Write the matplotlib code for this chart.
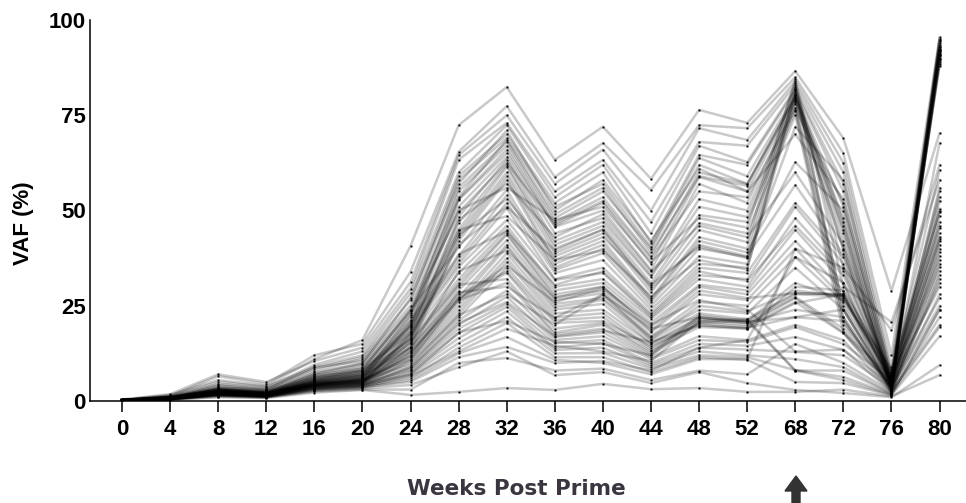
import matplotlib

matplotlib.use("Agg")
import matplotlib.pyplot as plt
from matplotlib.patches import FancyArrow

plt.rcParams["font.family"] = ["Liberation Sans", "DejaVu Sans"]

weeks = ["0", "4", "8", "12", "16", "20", "24", "28", "32", "36",
         "40", "44", "48", "52", "68", "72", "76", "80"]
y_ticks = [0, 25, 50, 75, 100]

# VAF (%) per variant, one row per variant, one column per week above
peak_high = [
    [0.3, 1.6, 5.5, 4.0, 11.0, 16.0, 40.7, 72.4, 82.4, 63.3, 72.0, 58.3, 76.4, 73.0, 86.6, 69.0, 28.9, 70.3],
    [0.2, 1.3, 6.5, 4.5, 12.0, 15.0, 33.9, 65.4, 77.4, 58.8, 67.7, 55.4, 72.4, 71.6, 85.0, 65.0, 12.0, 95.5],
    [0.4, 1.8, 7.0, 5.0, 10.5, 14.0, 31.2, 64.5, 75.0, 57.0, 66.0, 50.0, 71.6, 68.5, 84.0, 62.5, 9.0, 94.0],
    [0.2, 1.1, 4.5, 3.5, 9.5, 13.0, 29.5, 63.3, 73.0, 55.0, 63.3, 47.0, 68.0, 67.0, 83.0, 60.0, 7.5, 93.0],
    [0.3, 1.0, 4.0, 3.0, 9.0, 12.0, 28.3, 60.0, 72.4, 53.5, 62.0, 44.0, 67.0, 62.7, 82.0, 57.0, 6.5, 92.0],
    [0.1, 0.9, 3.5, 3.0, 8.5, 11.5, 26.5, 59.0, 70.0, 52.0, 60.0, 41.5, 64.6, 62.0, 81.5, 55.0, 5.0, 91.5],
    [0.2, 1.2, 4.2, 3.2, 8.0, 11.0, 25.0, 58.0, 69.0, 51.0, 57.0, 40.4, 63.8, 59.0, 80.5, 51.0, 4.0, 90.5],
    [0.3, 0.8, 3.0, 2.5, 7.5, 10.0, 23.0, 56.0, 68.0, 48.0, 55.0, 40.0, 62.0, 57.0, 80.0, 48.0, 3.5, 94.5],
    [0.2, 0.7, 3.2, 2.2, 7.0, 9.5, 22.0, 55.0, 67.0, 47.0, 53.5, 38.0, 60.0, 57.0, 79.5, 45.0, 3.0, 89.5],
    [0.1, 0.9, 2.8, 2.0, 6.5, 9.0, 21.0, 53.0, 66.0, 46.0, 52.0, 36.0, 58.8, 55.0, 79.0, 42.0, 5.5, 88.5],
    [0.2, 0.6, 2.5, 1.8, 6.0, 8.5, 20.0, 52.8, 65.0, 45.7, 50.0, 34.4, 57.0, 52.0, 78.5, 39.6, 4.5, 93.5],
    [0.3, 1.0, 3.0, 2.4, 6.5, 8.0, 19.5, 51.0, 64.0, 44.0, 48.0, 33.0, 53.0, 50.0, 78.0, 25.0, 3.5, 91.0],
    [0.1, 0.5, 2.6, 1.9, 5.5, 8.0, 18.5, 48.3, 63.3, 42.0, 47.0, 32.5, 51.0, 48.3, 77.0, 22.0, 2.5, 90.0],
    [0.2, 0.8, 2.2, 1.6, 5.5, 7.5, 17.5, 46.7, 62.0, 41.0, 46.0, 31.0, 48.8, 47.0, 76.0, 20.0, 4.0, 92.5],
    [0.3, 1.1, 3.4, 2.6, 6.0, 7.0, 16.5, 45.0, 61.4, 40.0, 45.0, 30.0, 46.7, 44.0, 75.0, 18.0, 6.0, 95.0],
    [0.2, 0.7, 2.4, 1.7, 5.0, 7.2, 16.0, 44.0, 60.0, 38.8, 44.0, 28.5, 44.9, 41.7, 84.5, 30.0, 20.7, 58.0],
    [0.1, 0.6, 2.0, 1.5, 4.8, 6.8, 15.0, 43.0, 59.0, 37.0, 42.0, 27.0, 43.0, 40.0, 82.5, 35.0, 18.6, 62.0],
    [0.2, 0.9, 2.6, 2.0, 5.2, 6.5, 14.2, 42.0, 58.0, 36.0, 41.0, 26.5, 42.0, 39.0, 62.7, 50.0, 4.8, 67.7],
]

peak_mid = [
    [0.2, 0.8, 3.0, 2.2, 6.0, 8.0, 24.0, 40.4, 55.4, 35.0, 40.0, 26.0, 40.0, 37.8, 81.0, 47.0, 4.2, 91.8],
    [0.3, 1.0, 2.8, 2.0, 5.5, 7.0, 21.2, 38.0, 54.0, 34.4, 38.8, 25.0, 38.0, 36.0, 80.2, 44.0, 3.2, 89.0],
    [0.1, 0.6, 2.2, 1.6, 4.5, 6.0, 20.0, 37.0, 52.0, 33.6, 37.0, 24.0, 36.0, 35.0, 79.0, 40.0, 2.8, 93.0],
    [0.2, 0.7, 2.5, 1.8, 5.0, 6.5, 19.0, 36.0, 50.6, 32.0, 35.0, 23.0, 35.0, 33.6, 52.0, 37.8, 5.2, 55.0],
    [0.3, 0.9, 3.1, 2.3, 4.8, 5.5, 18.0, 35.2, 47.5, 31.8, 33.6, 22.0, 33.0, 32.0, 51.0, 36.0, 6.8, 50.0],
    [0.2, 0.5, 2.0, 1.4, 4.2, 5.0, 17.0, 33.6, 46.0, 30.0, 32.0, 21.5, 32.0, 30.0, 48.0, 34.0, 4.5, 47.0],
    [0.1, 0.7, 2.3, 1.7, 4.4, 5.8, 16.0, 32.0, 45.0, 29.0, 31.0, 20.5, 30.5, 29.0, 45.0, 31.0, 3.6, 45.5],
    [0.2, 0.8, 2.7, 2.1, 4.6, 5.2, 15.5, 31.0, 44.0, 28.0, 30.0, 19.5, 30.0, 28.0, 42.0, 29.0, 7.5, 44.0],
    [0.3, 0.6, 1.9, 1.5, 4.0, 4.8, 14.2, 30.0, 43.6, 27.3, 29.0, 18.0, 28.0, 26.5, 40.0, 27.0, 5.8, 42.0],
    [0.2, 0.9, 2.4, 1.9, 4.3, 5.3, 13.4, 29.0, 42.2, 26.5, 28.3, 17.0, 26.0, 25.0, 37.8, 26.0, 4.8, 40.0],
    [0.1, 0.5, 1.8, 1.3, 3.8, 4.6, 12.5, 27.3, 41.0, 25.5, 27.0, 16.8, 24.0, 23.0, 35.0, 24.0, 3.0, 38.0],
    [0.2, 0.7, 2.1, 1.6, 4.0, 5.0, 12.0, 26.0, 40.4, 24.7, 26.5, 16.0, 23.0, 21.5, 28.3, 28.0, 2.2, 36.0],
    [0.3, 0.8, 2.6, 2.0, 4.5, 5.6, 11.5, 25.0, 38.8, 24.0, 25.5, 15.2, 22.0, 21.0, 28.0, 27.5, 6.0, 35.2],
    [0.2, 0.6, 2.0, 1.5, 3.9, 4.7, 11.0, 24.0, 37.5, 23.0, 24.0, 15.0, 21.5, 20.5, 27.3, 19.0, 3.3, 34.0],
    [0.1, 0.5, 1.7, 1.2, 3.5, 4.3, 10.5, 23.0, 36.5, 22.0, 23.0, 14.0, 21.0, 20.0, 27.0, 18.0, 2.6, 33.0],
    [0.2, 0.7, 2.2, 1.7, 4.1, 4.9, 10.0, 22.0, 35.0, 21.2, 22.0, 13.5, 20.5, 19.5, 26.0, 17.8, 4.0, 31.0],
    [0.3, 0.9, 2.9, 2.2, 4.7, 6.2, 14.0, 28.0, 34.0, 20.5, 21.0, 14.5, 20.0, 19.0, 25.7, 28.0, 5.0, 48.5],
    [0.2, 0.6, 2.1, 1.6, 4.2, 5.4, 13.0, 27.0, 33.6, 19.0, 20.5, 13.0, 19.4, 19.0, 30.0, 29.0, 7.0, 46.0],
    [0.1, 0.8, 2.5, 1.8, 4.4, 5.9, 15.2, 30.5, 32.0, 18.0, 20.0, 12.5, 22.5, 21.0, 31.0, 26.5, 8.5, 49.5],
    [0.2, 0.7, 2.3, 1.7, 4.3, 5.1, 12.8, 26.5, 31.0, 17.5, 19.0, 12.0, 21.8, 20.8, 22.0, 24.0, 3.9, 43.0],
]

peak_low = [
    [0.2, 0.5, 1.6, 1.2, 3.4, 4.0, 9.0, 21.2, 29.0, 16.8, 18.0, 11.5, 17.0, 16.0, 20.0, 16.0, 2.4, 32.0],
    [0.1, 0.6, 1.9, 1.4, 3.6, 4.4, 8.5, 20.0, 27.3, 16.0, 17.0, 11.0, 16.0, 15.5, 19.4, 15.0, 5.5, 30.0],
    [0.3, 0.8, 2.4, 1.8, 3.8, 4.5, 8.1, 19.0, 25.5, 15.2, 16.0, 10.0, 15.0, 14.5, 16.8, 13.4, 4.2, 27.0],
    [0.2, 0.7, 2.0, 1.5, 3.5, 4.2, 7.8, 17.8, 24.7, 14.0, 15.2, 9.5, 14.0, 13.5, 12.9, 12.0, 3.5, 25.0],
    [0.1, 0.4, 1.5, 1.1, 3.0, 3.8, 7.3, 16.5, 23.5, 13.4, 14.0, 9.0, 13.0, 12.0, 11.0, 8.9, 2.0, 22.0],
    [0.2, 0.6, 1.7, 1.3, 3.2, 4.1, 6.8, 15.2, 22.0, 12.5, 12.6, 8.5, 12.0, 11.5, 8.1, 6.3, 1.8, 19.4],
    [0.3, 0.5, 1.8, 1.4, 3.3, 3.9, 6.0, 14.0, 20.5, 11.5, 11.5, 7.6, 11.5, 10.8, 5.0, 4.7, 1.5, 17.0],
    [0.1, 0.4, 1.4, 1.0, 2.8, 3.5, 5.5, 12.5, 16.8, 10.8, 10.0, 7.0, 11.0, 11.0, 40.0, 35.0, 4.5, 42.5],
    [0.2, 0.6, 1.6, 1.2, 3.0, 3.7, 5.0, 11.5, 14.2, 10.0, 10.5, 8.0, 14.0, 16.0, 37.8, 31.0, 3.2, 39.0],
    [0.1, 0.5, 1.3, 1.0, 2.7, 3.3, 4.2, 8.9, 13.0, 6.8, 7.6, 4.7, 7.6, 4.7, 2.9, 2.1, 1.0, 9.4],
    [0.1, 0.3, 1.0, 0.8, 2.2, 2.9, 1.6, 2.4, 3.4, 2.9, 4.5, 3.1, 3.4, 2.4, 2.4, 3.0, 1.2, 6.8],
    [0.1, 0.4, 1.1, 0.9, 2.5, 3.0, 3.0, 10.0, 11.3, 8.0, 8.5, 5.5, 8.0, 7.0, 15.0, 10.0, 2.5, 20.0],
    [0.2, 0.5, 1.5, 1.1, 3.1, 3.6, 6.5, 13.0, 19.0, 14.5, 13.0, 10.5, 21.0, 21.5, 8.0, 5.5, 1.6, 24.0],
]

extra_tracks = [
    [0.2, 0.9, 3.6, 2.8, 7.2, 9.8, 27.0, 57.0, 71.0, 50.0, 58.0, 42.0, 61.0, 55.0, 70.0, 53.0, 4.6, 92.2],
    [0.3, 1.4, 5.0, 3.8, 8.8, 10.5, 24.0, 53.5, 68.5, 49.0, 56.0, 39.0, 59.0, 56.5, 79.8, 46.0, 3.1, 90.8],
    [0.2, 0.8, 2.9, 2.1, 6.2, 7.8, 18.0, 47.5, 57.0, 43.0, 49.0, 34.0, 46.0, 43.0, 60.0, 41.0, 5.2, 88.0],
    [0.1, 0.6, 2.3, 1.7, 5.1, 6.3, 16.5, 41.0, 51.0, 39.5, 45.0, 29.5, 41.0, 38.0, 56.7, 38.5, 3.4, 94.8],
    [0.2, 0.7, 2.5, 1.9, 4.9, 6.0, 20.5, 44.9, 48.5, 37.0, 39.5, 27.5, 37.0, 34.5, 81.8, 24.0, 2.9, 91.2],
    [0.3, 0.9, 2.8, 2.2, 5.3, 6.6, 22.5, 50.0, 56.0, 47.5, 51.0, 36.5, 48.0, 45.5, 83.5, 21.0, 3.7, 89.8],
    [0.2, 0.6, 2.1, 1.6, 4.4, 5.7, 13.8, 34.0, 39.5, 27.0, 30.0, 18.5, 29.0, 27.0, 28.3, 28.0, 4.4, 52.5],
    [0.1, 0.5, 1.9, 1.4, 4.0, 5.1, 11.8, 28.5, 30.0, 21.8, 28.0, 16.2, 25.0, 23.5, 29.0, 27.5, 6.2, 37.0],
    [0.2, 0.8, 2.4, 1.8, 4.6, 5.5, 9.5, 22.5, 28.0, 20.0, 27.8, 19.0, 22.0, 20.5, 24.0, 22.0, 2.8, 41.0],
    [0.3, 0.7, 2.2, 1.7, 4.1, 4.9, 8.8, 20.5, 26.0, 17.0, 18.5, 15.5, 19.8, 19.2, 22.0, 21.0, 3.6, 50.5],
    [0.1, 0.4, 1.6, 1.2, 3.5, 4.3, 7.0, 18.0, 21.0, 15.5, 15.0, 12.0, 20.5, 21.0, 8.0, 8.0, 1.9, 24.0],
    [0.2, 0.6, 1.8, 1.3, 3.7, 4.6, 17.5, 38.5, 44.5, 30.5, 34.0, 22.5, 34.0, 31.5, 46.0, 33.0, 4.1, 56.0],
    [0.2, 0.7, 2.6, 2.0, 5.6, 7.4, 19.5, 43.5, 53.0, 38.0, 43.0, 30.5, 40.5, 37.5, 72.0, 58.0, 5.9, 60.6],
    [0.3, 1.0, 3.3, 2.5, 6.8, 8.6, 23.5, 49.5, 62.5, 46.5, 52.5, 37.5, 55.0, 53.5, 76.5, 52.0, 6.4, 53.5],
    [0.1, 0.5, 1.7, 1.3, 3.9, 5.6, 10.8, 26.8, 35.5, 26.0, 29.5, 20.0, 26.5, 24.0, 13.0, 13.5, 2.3, 28.0],
]

fig = plt.figure(figsize=(9.66, 5.03), dpi=100)
ax = fig.add_axes([90 / 966, 1 - 401 / 503, 876 / 966, 381 / 503])

x = list(range(len(weeks)))
for group in (peak_high, peak_mid, peak_low, extra_tracks):
    for vals in group:
        ax.plot(x, vals, color="black", alpha=0.21, lw=1.8, zorder=2)
        ax.plot(x, vals, ls="none", marker="s", ms=1.4, mew=0, color="black", zorder=3)

ax.set_xlim(-0.665, 17.55)
ax.set_ylim(0, 100)
ax.set_xticks(x)
ax.set_xticklabels(weeks)
ax.set_yticks(y_ticks)
ax.set_yticklabels([str(v) for v in y_ticks])
for lab in ax.get_xticklabels() + ax.get_yticklabels():
    lab.set_fontweight("bold")
    lab.set_fontsize(16)
ax.tick_params(axis="x", length=8, width=1.1, pad=5, direction="out")
ax.tick_params(axis="y", length=0, pad=3)
for side in ("top", "right"):
    ax.spines[side].set_visible(False)
for side in ("left", "bottom"):
    ax.spines[side].set_linewidth(1.1)

fig.text(23 / 966, 1 - 223 / 503, "VAF (%)", rotation=90, fontsize=16,
         fontweight="bold", ha="center", va="center")
fig.text(516 / 966, 1 - 489 / 503, "Weeks Post Prime", fontsize=15.5,
         fontweight="bold", family=["DejaVu Sans"],
         color="#3b3540", ha="center", va="center")

arrow = FancyArrow(7.96, -0.05, 0, 0.32, width=0.08, head_width=0.22,
                   head_length=0.15, length_includes_head=True,
                   color="#333333", transform=fig.dpi_scale_trans)
fig.add_artist(arrow)

fig.savefig("out.png", dpi=100, facecolor="white")
